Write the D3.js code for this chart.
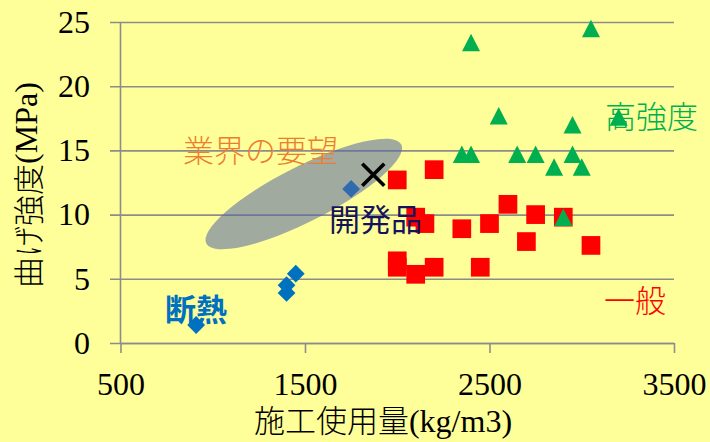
<!DOCTYPE html>
<html>
<head>
<meta charset="utf-8">
<script src="https://cdn.jsdelivr.net/npm/d3@7"></script>
<style>
  html, body { margin: 0; padding: 0; background: #ffff99; }
  svg { display: block; }
</style>
</head>
<body>
<svg id="chart" width="710" height="442"></svg>
<script>
// Axis ticks
const xTicks = [500, 1500, 2500, 3500];
const yTicks = [0, 5, 10, 15, 20, 25];

// 一般 (general products)
const generalX = [2000, 2200, 2600, 2750, 2900, 2100, 2150, 2350, 2500, 2700, 3050, 2000, 2000, 2100, 2200, 2450];
const generalY = [12.7, 13.5, 10.8, 10.0, 9.8, 9.8, 9.3, 8.9, 9.3, 7.9, 7.6, 6.4, 5.9, 5.35, 5.9, 5.9];

// 高強度 (high strength)
const highX = [2400, 3050, 2550, 2950, 3200, 2350, 2400, 2650, 2750, 2950, 2850, 3000, 2900];
const highY = [23.4, 24.5, 17.7, 17.0, 17.6, 14.7, 14.7, 14.7, 14.7, 14.7, 13.7, 13.7, 9.8];

// 断熱 (insulating)
const insulX = [910, 1400, 1400, 1450, 1750];
const insulY = [1.4, 3.9, 4.5, 5.4, 12.0];

// 開発品 (developed product)
const devX = [1870];
const devY = [13.1];

// 業界の要望 region: major-axis end points (data units)
const wishEnds = [[965, 7.75], [2022, 15.46]];

// Axis title pieces: [text, isJapanese]
const xTitle = [["施工使用量", true], ["(kg/m3)", false]];
const yTitle = [["曲げ強度", true], ["(MPa)", false]];

const svg = d3.select("#chart");
const W = 710, H = 442;
svg.append("rect").attr("width", W).attr("height", H).attr("fill", "#ffff99");

const x = d3.scaleLinear().domain([500, 3500]).range([120.5, 674]);
const y = d3.scaleLinear().domain([0, 25]).range([343, 22]);

const gridColor = "#8c8c8c";
const numFont = "'Liberation Serif', serif";
const jpFont = "'Noto Sans CJK JP', sans-serif";

// Horizontal gridlines with y tick labels
const yAxis = svg.append("g")
  .attr("transform", `translate(${x(3500)},0)`)
  .call(d3.axisLeft(y).tickValues(yTicks).tickSize(x(3500) - 110).tickPadding(20).tickFormat(d3.format("d")));
yAxis.select(".domain").remove();
yAxis.selectAll(".tick line").attr("stroke", gridColor).attr("stroke-width", 1.6);
yAxis.selectAll(".tick text").attr("font-family", numFont).attr("font-size", 32).attr("fill", "#000");

// Vertical axis line
svg.append("line")
  .attr("x1", x(500)).attr("x2", x(500))
  .attr("y1", y(25)).attr("y2", y(0))
  .attr("stroke", gridColor).attr("stroke-width", 1.6);

// Bottom axis
const xAxis = svg.append("g")
  .attr("transform", `translate(0,${y(0)})`)
  .call(d3.axisBottom(x).tickValues(xTicks).tickSizeInner(10).tickSizeOuter(0).tickPadding(19).tickFormat(d3.format("d")));
xAxis.select(".domain").attr("stroke", gridColor).attr("stroke-width", 1.6);
xAxis.selectAll(".tick line").attr("stroke", gridColor).attr("stroke-width", 1.6);
xAxis.selectAll(".tick text").attr("font-family", numFont).attr("font-size", 32).attr("fill", "#000");

// 一般: red squares
const sq = 18.7;
svg.append("g").selectAll("rect")
  .data(d3.zip(generalX, generalY))
  .join("rect")
  .attr("x", d => x(d[0]) - sq / 2)
  .attr("y", d => y(d[1]) - sq / 2)
  .attr("width", sq).attr("height", sq)
  .attr("fill", "#ff0000");

// 高強度: green triangles
const tw = 18, th = 17.5;
svg.append("g").selectAll("path")
  .data(d3.zip(highX, highY))
  .join("path")
  .attr("d", d => {
    const cx = x(d[0]), cy = y(d[1]);
    return `M${cx},${cy - th / 2}L${cx + tw / 2},${cy + th / 2}L${cx - tw / 2},${cy + th / 2}Z`;
  })
  .attr("fill", "#00b050");

// 断熱: blue diamonds
const dd = 8.9;
svg.append("g").selectAll("path")
  .data(d3.zip(insulX, insulY))
  .join("path")
  .attr("d", d => {
    const cx = x(d[0]), cy = y(d[1]);
    return `M${cx},${cy - dd}L${cx + dd},${cy}L${cx},${cy + dd}L${cx - dd},${cy}Z`;
  })
  .attr("fill", "#0070c0");

// 業界の要望: translucent ellipse
{
  const p1 = [x(wishEnds[0][0]), y(wishEnds[0][1])];
  const p2 = [x(wishEnds[1][0]), y(wishEnds[1][1])];
  const cx = (p1[0] + p2[0]) / 2, cy = (p1[1] + p2[1]) / 2;
  const rx = Math.hypot(p2[0] - p1[0], p2[1] - p1[1]) / 2;
  const ang = Math.atan2(p2[1] - p1[1], p2[0] - p1[0]) * 180 / Math.PI;
  svg.append("ellipse")
    .attr("cx", 0).attr("cy", 0)
    .attr("rx", rx).attr("ry", 27.6)
    .attr("transform", `translate(${cx},${cy}) rotate(${ang})`)
    .attr("fill", "rgb(87,104,162)")
    .attr("fill-opacity", 0.56);
}

// 開発品: black cross
const xs = 11;
svg.append("g").selectAll("path")
  .data(d3.zip(devX, devY))
  .join("path")
  .attr("d", d => {
    const cx = x(d[0]), cy = y(d[1]);
    return `M${cx - xs},${cy - xs}L${cx + xs},${cy + xs}M${cx + xs},${cy - xs}L${cx - xs},${cy + xs}`;
  })
  .attr("stroke", "#000").attr("stroke-width", 3.6).attr("fill", "none");

// Group labels
const labels = [
  { text: "業界の要望", x: 183, y: 148, color: "#ed7d31", weight: 300 },
  { text: "開発品", x: 329, y: 217, color: "#14145c", weight: 400 },
  { text: "断熱", x: 165, y: 307, color: "#0070c0", weight: 700 },
  { text: "高強度", x: 605, y: 114, color: "#00b050", weight: 300 },
  { text: "一般", x: 604, y: 298, color: "#ff0000", weight: 300 }
];
svg.append("g").selectAll("text")
  .data(labels)
  .join("text")
  .attr("x", d => d.x).attr("y", d => d.y)
  .attr("dominant-baseline", "central")
  .attr("font-family", jpFont)
  .attr("font-size", 31)
  .attr("font-weight", d => d.weight)
  .attr("fill", d => d.color)
  .text(d => d.text);

// Axis titles: Japanese in a light sans, units in serif
function title(sel, parts) {
  sel.selectAll("tspan")
    .data(parts)
    .join("tspan")
    .attr("font-family", d => d[1] ? jpFont : numFont)
    .attr("font-weight", d => d[1] ? 300 : 400)
    .attr("font-size", d => d[1] ? 31 : 32)
    .text(d => d[0]);
}

svg.append("text")
  .attr("x", 383).attr("y", 432)
  .attr("text-anchor", "middle")
  .attr("fill", "#000")
  .call(title, xTitle);

svg.append("text")
  .attr("transform", "translate(26,185) rotate(-90)")
  .attr("text-anchor", "middle")
  .attr("dominant-baseline", "central")
  .attr("fill", "#000")
  .call(title, yTitle);
</script>
</body>
</html>
